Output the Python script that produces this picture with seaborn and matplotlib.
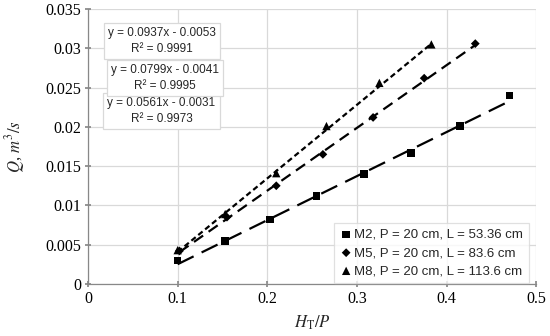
import numpy as np
import pandas as pd
import matplotlib.pyplot as plt
import seaborn as sns

# series
m2_x = [0.100, 0.153, 0.203, 0.255, 0.308, 0.360, 0.415, 0.470]
m2_q = [0.0030, 0.0055, 0.0082, 0.0112, 0.0140, 0.0167, 0.0201, 0.0240]
m5_x = [0.102, 0.155, 0.210, 0.262, 0.318, 0.375, 0.432]
m5_q = [0.0042, 0.0085, 0.0125, 0.0165, 0.0212, 0.0262, 0.0306]
m8_x = [0.100, 0.153, 0.210, 0.266, 0.325, 0.383]
m8_q = [0.0043, 0.0089, 0.0141, 0.0201, 0.0256, 0.0305]

labels = ["M2, P = 20 cm, L = 53.36 cm", "M5, P = 20 cm, L = 83.6 cm", "M8, P = 20 cm, L = 113.6 cm"]
slopes = [0.0561, 0.0799, 0.0937]
intercepts = [-0.0031, -0.0041, -0.0053]
r2 = [0.9973, 0.9995, 0.9991]

sns.set_theme(style="whitegrid")
plt.rcParams["font.family"] = ["Liberation Serif", "DejaVu Serif"]
plt.rcParams["mathtext.fontset"] = "stix"

fig = plt.figure(figsize=(5.5, 3.36), dpi=100)
ax = fig.add_axes([0.16, 0.155, 0.815, 0.818])

series = [(m2_x, m2_q, "s", 30), (m5_x, m5_q, "D", 20), (m8_x, m8_q, "^", 36)]
for (xs, qs, mk, sz), lab in zip(series, labels):
    sns.scatterplot(x=xs, y=qs, marker=mk, s=sz, color="black", edgecolor="none",
                    label=lab, ax=ax, zorder=3)

dashes = [(8, 4), (5, 3), (2.5, 1.5)]
for (xs, _, _, _), k, b, d in zip(series, slopes, intercepts, dashes):
    xx = np.array([min(xs), max(xs)])
    ax.plot(xx, k * xx + b, color="black", lw=1.6, dashes=d, zorder=2)

ax.set_xlim(0, 0.5)
ax.set_ylim(0, 0.035)
ax.set_xticks(np.arange(0, 0.51, 0.1))
ax.set_yticks(np.arange(0, 0.0351, 0.005))
ax.set_xticklabels(["0", "0.1", "0.2", "0.3", "0.4", "0.5"])
ax.set_yticklabels(["0", "0.005", "0.01", "0.015", "0.02", "0.025", "0.03", "0.035"])
ax.tick_params(labelsize=11.5, colors="black", length=4, color="#888888", left=True, bottom=True,
               direction="inout", pad=3)
ax.grid(color="#d9d9d9", lw=0.9)
for s in ["top", "right"]:
    ax.spines[s].set_visible(False)
for s in ["left", "bottom"]:
    ax.spines[s].set_color("#888888")
    ax.spines[s].set_linewidth(0.9)

ax.set_xlabel("$H_{\\mathrm{T}}/P$", fontsize=12, labelpad=5)
ax.set_ylabel("$Q$, $m^3/s$", fontsize=12, labelpad=13)

box_pos = [(0.164, 0.629), (0.172, 0.749), (0.165, 0.884)]
for (bx, by), k, b, r in zip(box_pos, slopes, intercepts, r2):
    ax.text(bx, by, f"y = {k:.4f}x - {abs(b):.4f}\nR² = {r:.4f}",
            transform=ax.transAxes, ha="center", va="center", fontsize=8.5,
            family=["Liberation Sans", "DejaVu Sans"], linespacing=1.35,
            bbox=dict(boxstyle="square,pad=0.35", fc="white", ec="#d9d9d9", lw=0.9), zorder=5)

leg = ax.legend(loc="lower right", bbox_to_anchor=(0.985, 0.0), frameon=True, fancybox=False,
                prop={"family": ["Liberation Sans", "DejaVu Sans"], "size": 9.5},
                handletextpad=0.1, borderpad=0.45, labelspacing=0.45, handlelength=1.0,
                borderaxespad=0.05)
leg.get_frame().set_edgecolor("#d9d9d9")
leg.get_frame().set_linewidth(0.9)

fig.savefig("out.png", dpi=100)
